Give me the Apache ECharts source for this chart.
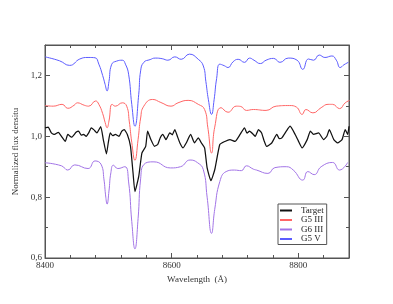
<!DOCTYPE html>
<html><head><meta charset="utf-8">
<script src="https://cdn.jsdelivr.net/npm/echarts@6/dist/echarts.min.js"></script>
<style>html,body{margin:0;padding:0;background:#fff}#c{width:393px;height:304px}</style>
</head><body><div id="c"></div>
<script>
const seriesNames = ['Target', 'G5 III', 'G6 III', 'G5 V'];
const xTitle = 'Wavelength  (Å)';
const yTitle = 'Normalized flux densitu';

const target = [
[8400,1.028],[8405,1.030],[8410,1.011],[8415,1.006],[8421,1.013],[8426,1.000],[8432,0.983],[8436,1.006],
[8442,0.997],[8449,1.013],[8453,1.017],[8457,1.004],[8461,1.006],[8465,1.000],[8469,1.011],[8473,1.028],[8477,1.022],
[8482,1.011],[8488,1.032],[8492,0.990],[8497,0.942],[8500,0.980],[8503,1.011],[8507,1.002],[8511,1.006],
[8517,1.000],[8521,1.016],[8525,1.022],[8530,1.006],[8535,0.967],[8539,0.880],[8542,0.818],[8548,0.868],
[8553,0.945],[8559,0.967],[8562,1.017],[8567,0.990],[8573,0.967],[8578,0.973],[8582,0.995],[8586,1.006],
[8591,0.989],[8597,1.011],[8601,1.005],[8605,1.022],[8609,1.000],[8613,0.978],[8618,0.962],[8623,0.978],[8630,1.006],
[8636,0.978],[8642,0.995],[8647,0.978],[8652,0.962],[8656,0.896],[8662,0.854],[8668,0.890],[8676,0.973],
[8684,0.983],[8692,0.989],[8700,0.983],[8708,1.006],[8715,1.028],[8719,1.010],[8723,1.017],[8729,1.006],[8732,1.000],
[8737,1.022],[8742,1.011],[8746,0.985],[8750,0.967],[8758,0.978],[8766,1.006],[8770,0.992],[8774,0.995],[8781,1.017],
[8787,1.033],[8795,1.006],[8800,0.985],[8806,0.962],[8814,0.989],[8819,1.017],[8824,1.006],[8832,1.011],
[8840,0.989],[8845,1.000],[8849,1.022],[8856,0.989],[8862,0.978],[8869,0.989],[8874,1.022],[8878,1.006],[8880,1.033]
];

const g5iii = [
[8400,1.101],[8413,1.099],[8427,1.105],[8436,1.092],[8446,1.102],[8451,1.110],[8462,1.102],[8469,1.099],
[8480,1.116],[8485,1.105],[8491,1.075],[8495,1.045],[8498,1.028],[8501,1.050],[8506,1.105],[8511,1.099],
[8522,1.110],[8529,1.099],[8533,1.050],[8537,0.980],[8542,0.921],[8547,0.990],[8551,1.060],[8556,1.099],
[8570,1.121],[8583,1.111],[8599,1.099],[8610,1.110],[8626,1.118],[8642,1.105],[8652,1.088],[8657,1.030],
[8663,0.945],[8668,1.030],[8678,1.094],[8689,1.079],[8702,1.099],[8709,1.098],[8718,1.085],[8729,1.088],
[8749,1.085],[8765,1.099],[8786,1.101],[8797,1.096],[8806,1.072],[8812,1.088],[8823,1.077],[8836,1.094],
[8847,1.105],[8854,1.105],[8865,1.091],[8874,1.110],[8881,1.118]
];

const g6iii = [
[8400,0.913],[8426,0.903],[8436,0.889],[8447,0.906],[8468,0.894],[8479,0.919],[8489,0.906],[8493,0.860],
[8496,0.800],[8498,0.777],[8501,0.820],[8504,0.880],[8508,0.905],[8515,0.894],[8526,0.900],[8532,0.850],
[8537,0.720],[8542,0.630],[8547,0.730],[8551,0.860],[8556,0.907],[8572,0.916],[8598,0.896],[8614,0.900],
[8629,0.922],[8641,0.913],[8650,0.890],[8656,0.800],[8663,0.681],[8668,0.760],[8676,0.851],[8686,0.884],
[8699,0.889],[8710,0.887],[8718,0.903],[8729,0.892],[8734,0.889],[8752,0.878],[8763,0.897],[8781,0.900],
[8792,0.889],[8807,0.856],[8815,0.884],[8825,0.874],[8836,0.900],[8854,0.914],[8865,0.889],[8878,0.914]
];

const g5v = [
[8400,1.261],[8423,1.248],[8439,1.233],[8455,1.254],[8468,1.259],[8479,1.258],[8485,1.237],[8491,1.200],
[8495,1.170],[8498,1.149],[8501,1.180],[8505,1.235],[8513,1.247],[8522,1.250],[8527,1.237],[8532,1.204],
[8537,1.105],[8542,1.033],[8548,1.138],[8551,1.215],[8556,1.243],[8566,1.252],[8574,1.257],[8585,1.255],
[8594,1.250],[8605,1.261],[8615,1.253],[8628,1.270],[8642,1.253],[8650,1.231],[8654,1.180],[8658,1.120],
[8663,1.072],[8667,1.120],[8671,1.190],[8676,1.237],[8683,1.232],[8689,1.226],[8697,1.245],[8705,1.253],
[8715,1.243],[8723,1.257],[8730,1.250],[8740,1.239],[8749,1.250],[8761,1.256],[8771,1.243],[8784,1.257],
[8798,1.250],[8807,1.220],[8816,1.254],[8824,1.250],[8833,1.267],[8842,1.259],[8853,1.264],[8860,1.250],
[8866,1.226],[8872,1.235],[8879,1.243]
];

const colors = ['#111111', '#ff6666', '#a274e6', '#5c5cff'];
const widths = [1.25, 1, 1, 1];
const smooths = [0.15, 0.5, 0.5, 0.5];
const dataList = [target, g5iii, g6iii, g5v];

const font = 'Liberation Serif';
const tc = '#333';
const chart = echarts.init(document.getElementById('c'), null, {renderer: 'canvas'});

const series = dataList.map((d, i) => ({
  name: seriesNames[i], type: 'line', data: d, showSymbol: false, symbol: 'none',
  smooth: smooths[i], lineStyle: {color: colors[i], width: widths[i]}, itemStyle: {color: colors[i]},
  z: 10 - i, animation: false
}));

const fmtY = v => v.toFixed(1).replace('.', ',');
const fmtX = v => String(v);

chart.setOption({
  animation: false,
  grid: {left: 45, right: 44, top: 45, bottom: 46, show: true, borderColor: '#555', borderWidth: 1},
  legend: {
    data: seriesNames.map((n, i) => ({name: n, icon: 'rect', itemStyle: {color: colors[i]}})),
    orient: 'vertical', left: 278, top: 204, padding: [2, 3, 1, 2],
    itemWidth: 12, itemHeight: 2, itemGap: 0.5, borderColor: '#555', borderWidth: 1,
    backgroundColor: '#fff',
    textStyle: {fontFamily: font, fontSize: 9, color: '#222', lineHeight: 9, padding: [0, 0, 0, 4]}
  },
  xAxis: [{
    type: 'value', min: 8400, max: 8880, interval: 200,
    name: xTitle, nameLocation: 'middle', nameGap: 14,
    nameTextStyle: {fontFamily: font, fontSize: 9, color: tc},
    axisLine: {show: true, lineStyle: {color: '#555'}},
    axisTick: {show: true, inside: true, length: 5, lineStyle: {color: '#555'}},
    minorTick: {show: true, splitNumber: 5, length: 3, lineStyle: {color: '#555'}},
    axisLabel: {fontFamily: font, fontSize: 9, color: tc, margin: 3, showMaxLabel: false, formatter: fmtX},
    splitLine: {show: false}
  }, {
    type: 'value', position: 'top', min: 8400, max: 8880, interval: 200,
    axisLine: {show: true, lineStyle: {color: '#555'}},
    axisTick: {show: true, inside: true, length: 5, lineStyle: {color: '#555'}},
    minorTick: {show: true, splitNumber: 5, length: 3, lineStyle: {color: '#555'}},
    axisLabel: {show: false}, splitLine: {show: false}
  }],
  yAxis: [{
    type: 'value', min: 0.6, max: 1.3, interval: 0.2,
    name: yTitle, nameLocation: 'middle', nameGap: 18, nameRotate: 90,
    nameTextStyle: {fontFamily: font, fontSize: 9, color: tc},
    axisLine: {show: true, lineStyle: {color: '#555'}},
    axisTick: {show: true, inside: true, length: 5, lineStyle: {color: '#555'}},
    minorTick: {show: true, splitNumber: 2, length: 3, lineStyle: {color: '#555'}},
    axisLabel: {fontFamily: font, fontSize: 9, color: tc, margin: 3, formatter: fmtY, showMaxLabel: false},
    splitLine: {show: false}
  }, {
    type: 'value', position: 'right', min: 0.6, max: 1.3, interval: 0.2,
    axisLine: {show: true, lineStyle: {color: '#555'}},
    axisTick: {show: true, inside: true, length: 5, lineStyle: {color: '#555'}},
    minorTick: {show: true, splitNumber: 2, length: 3, lineStyle: {color: '#555'}},
    axisLabel: {show: false}, splitLine: {show: false}
  }],
  series: series
});
</script></body></html>
